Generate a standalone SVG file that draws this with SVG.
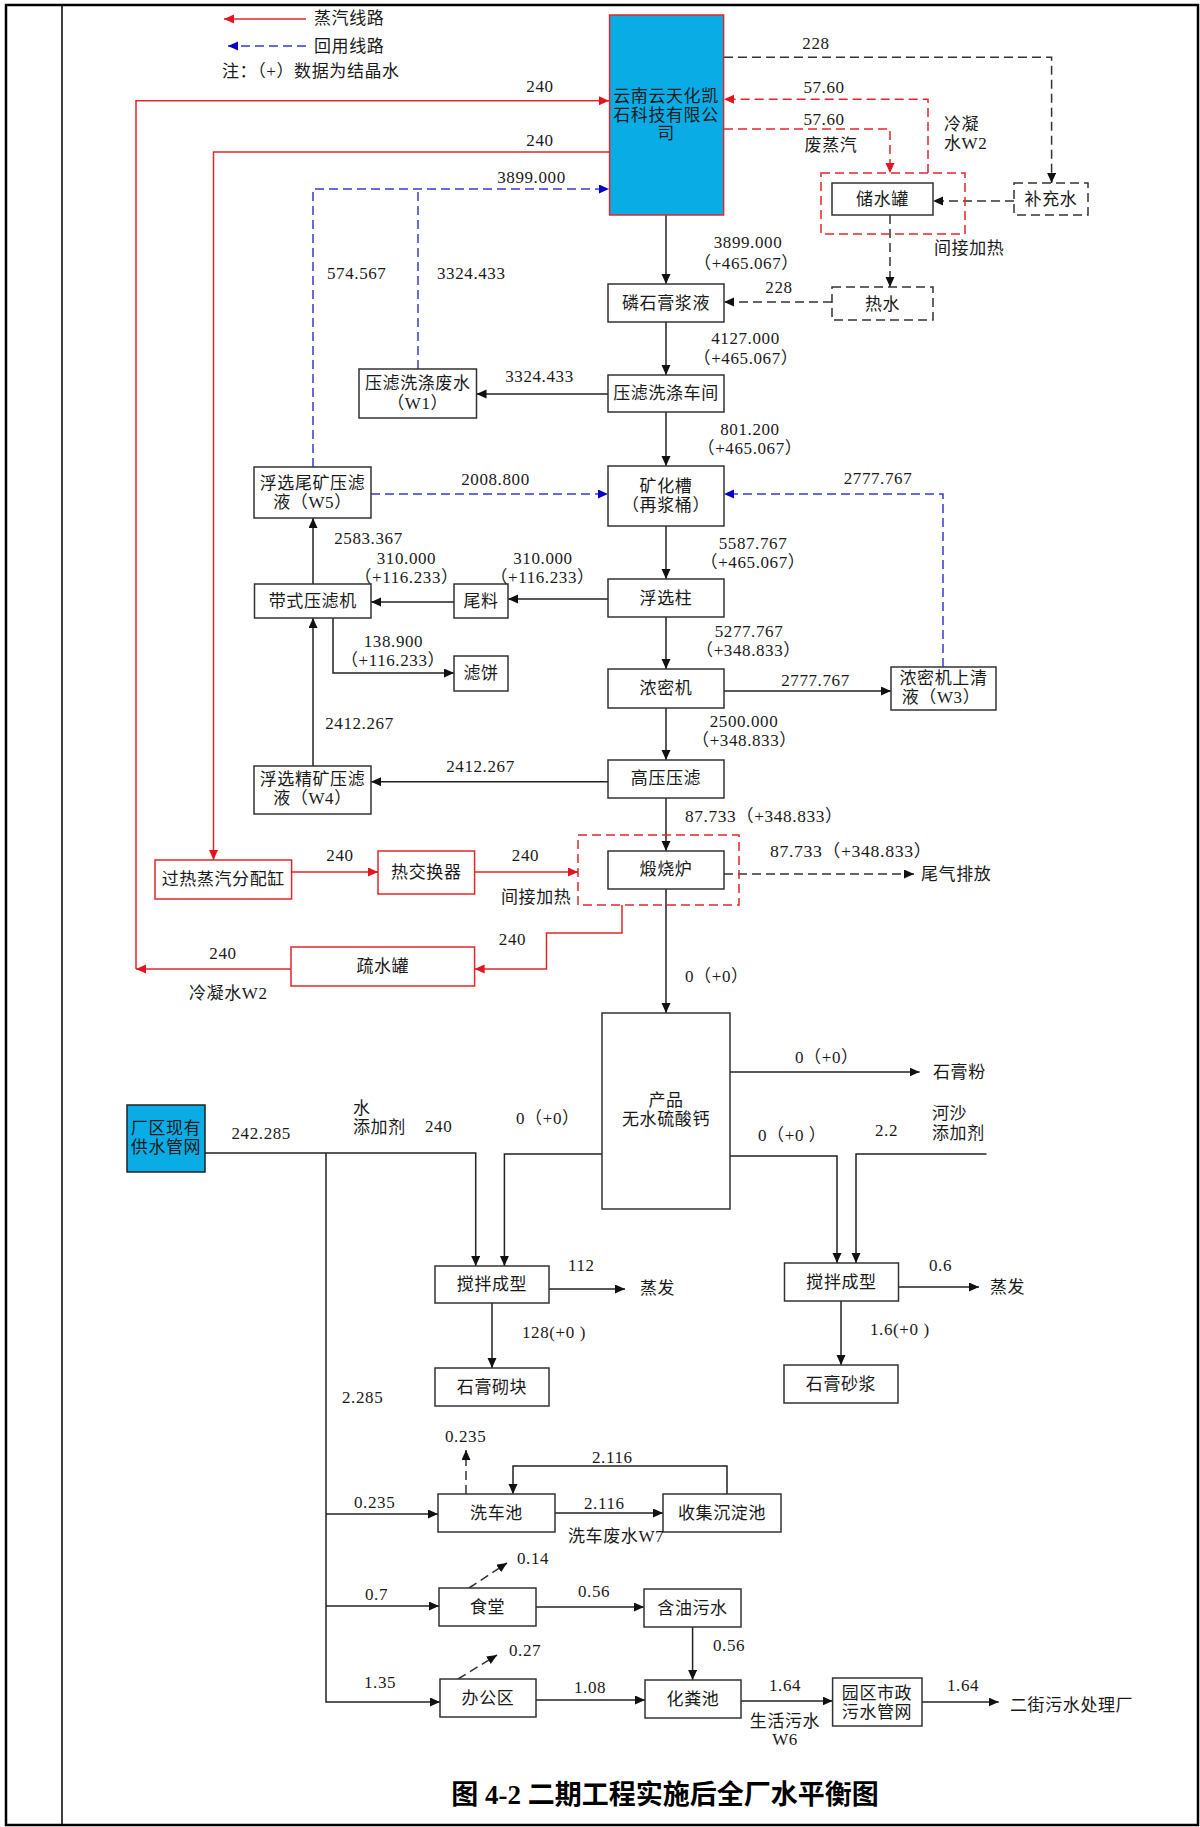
<svg xmlns="http://www.w3.org/2000/svg" width="1200" height="1827" viewBox="0 0 1200 1827">
<defs>
<style>
.ln{fill:none;stroke:#222;stroke-width:1.5}
.dk{fill:none;stroke:#333;stroke-width:1.5;stroke-dasharray:9 5}
.rd{fill:none;stroke:#E3262B;stroke-width:1.5}
.rdd{fill:none;stroke:#E3262B;stroke-width:1.5;stroke-dasharray:9 5}
.bl{fill:none;stroke:#3A3AD0;stroke-width:1.5;stroke-dasharray:9 5}
.box{fill:#fff;stroke:#333;stroke-width:1.5}
.dbox{fill:#fff;stroke:#333;stroke-width:1.5;stroke-dasharray:9 5}
.rbox{fill:#fff;stroke:#E3262B;stroke-width:1.5}
.t{font-family:"Liberation Serif","Noto Sans CJK SC",serif;font-size:17px;fill:#1a1a1a;letter-spacing:0.6px}
.m{text-anchor:middle}
.title{font-family:"Liberation Serif","Noto Sans CJK SC",serif;font-size:27px;font-weight:bold;fill:#000;text-anchor:middle}
</style>
<marker id="ak" markerUnits="userSpaceOnUse" markerWidth="11" markerHeight="10" refX="10" refY="4.5" orient="auto"><path d="M0,0 L10,4.5 L0,9 z" fill="#111" stroke="none"/></marker>
<marker id="ar" markerUnits="userSpaceOnUse" markerWidth="11" markerHeight="10" refX="10" refY="4.5" orient="auto"><path d="M0,0 L10,4.5 L0,9 z" fill="#E3141E" stroke="none"/></marker>
<marker id="ab" markerUnits="userSpaceOnUse" markerWidth="11" markerHeight="10" refX="10" refY="4.5" orient="auto"><path d="M0,0 L10,4.5 L0,9 z" fill="#0000C8" stroke="none"/></marker>
</defs>

<rect width="1200" height="1827" fill="#fff"/>
<!-- page frame -->
<rect x="6" y="5" width="1192" height="1820" fill="none" stroke="#000" stroke-width="2.5"/>
<line x1="62" y1="5" x2="62" y2="1825" stroke="#000" stroke-width="1.5"/>

<!-- legend -->
<g id="legend">
<line class="rd" x1="306" y1="19" x2="224" y2="19" marker-end="url(#ar)"/>
<text class="t" x="314" y="24">蒸汽线路</text>
<line class="bl" x1="306" y1="46" x2="228" y2="46" marker-end="url(#ab)"/>
<text class="t" x="314" y="52">回用线路</text>
<text class="t" x="222" y="77">注：（+）数据为结晶水</text>
</g>

<!-- connectors -->
<g id="connectors">
<!-- steam lines -->
<polyline class="rd" points="136,969 136,100.7 609,100.7" marker-end="url(#ar)"/>
<line class="rd" x1="291" y1="969" x2="136" y2="969" marker-end="url(#ar)"/>
<polyline class="rd" points="609,152 213.5,152 213.5,860" marker-end="url(#ar)"/>
<line class="rd" x1="291.6" y1="872" x2="378" y2="872" marker-end="url(#ar)"/>
<line class="rd" x1="474.6" y1="872" x2="578" y2="872" marker-end="url(#ar)"/>
<polyline class="rd" points="622,905 622,933 546.5,933 546.5,969 474.6,969" marker-end="url(#ar)"/>
<polyline class="rdd" points="928,173 928,99.3 724,99.3" marker-end="url(#ar)"/>
<polyline class="rdd" points="724,129 890,129 890,173" marker-end="url(#ar)"/>

<!-- recycled water lines -->
<line class="bl" x1="418" y1="369" x2="418" y2="189"/>
<polyline class="bl" points="313,467 313,189 609,189" marker-end="url(#ab)"/>
<line class="bl" x1="371" y1="494" x2="608" y2="494" marker-end="url(#ab)"/>
<polyline class="bl" points="943,667 943,494 724,494" marker-end="url(#ab)"/>

<!-- hot water loop -->
<polyline class="dk" points="724,57.3 1051.6,57.3 1051.6,183" marker-end="url(#ak)"/>
<line class="dk" x1="1014" y1="201" x2="933" y2="201" marker-end="url(#ak)"/>
<line class="dk" x1="890" y1="215" x2="890" y2="287" marker-end="url(#ak)"/>
<line class="dk" x1="832" y1="302" x2="724" y2="302" marker-end="url(#ak)"/>

<!-- main process column -->
<line class="ln" x1="666" y1="215" x2="666" y2="284" marker-end="url(#ak)"/>
<line class="ln" x1="666" y1="322" x2="666" y2="375" marker-end="url(#ak)"/>
<line class="ln" x1="666" y1="412" x2="666" y2="466" marker-end="url(#ak)"/>
<line class="ln" x1="666" y1="526" x2="666" y2="579" marker-end="url(#ak)"/>
<line class="ln" x1="666" y1="617" x2="666" y2="669" marker-end="url(#ak)"/>
<line class="ln" x1="666" y1="708" x2="666" y2="760" marker-end="url(#ak)"/>
<line class="ln" x1="666" y1="798" x2="666" y2="851" marker-end="url(#ak)"/>
<line class="ln" x1="666" y1="889" x2="666" y2="1013" marker-end="url(#ak)"/>

<line class="ln" x1="608" y1="394" x2="476.5" y2="394" marker-end="url(#ak)"/>
<line class="ln" x1="608" y1="599" x2="508" y2="599" marker-end="url(#ak)"/>
<line class="ln" x1="454" y1="602" x2="371" y2="602" marker-end="url(#ak)"/>
<line class="ln" x1="313" y1="584" x2="313" y2="518" marker-end="url(#ak)"/>
<polyline class="ln" points="333,618 333,673 454,673" marker-end="url(#ak)"/>
<line class="ln" x1="313" y1="766" x2="313" y2="618" marker-end="url(#ak)"/>
<line class="ln" x1="608" y1="781.7" x2="371" y2="781.7" marker-end="url(#ak)"/>
<line class="ln" x1="724" y1="691" x2="891" y2="691" marker-end="url(#ak)"/>
<line class="dk" x1="724" y1="874" x2="914" y2="874" marker-end="url(#ak)"/>

<!-- product section -->
<line class="ln" x1="730" y1="1072" x2="919.6" y2="1072" marker-end="url(#ak)"/>
<polyline class="ln" points="602,1154 504.4,1154 504.4,1266" marker-end="url(#ak)"/>
<polyline class="ln" points="205,1153 475.7,1153 475.7,1266" marker-end="url(#ak)"/>
<polyline class="ln" points="730,1156 837,1156 837,1263" marker-end="url(#ak)"/>
<polyline class="ln" points="986.5,1154 856,1154 856,1263" marker-end="url(#ak)"/>
<line class="ln" x1="549" y1="1289" x2="625" y2="1289" marker-end="url(#ak)"/>
<line class="ln" x1="898.5" y1="1287" x2="979" y2="1287" marker-end="url(#ak)"/>
<line class="ln" x1="492" y1="1303" x2="492" y2="1368" marker-end="url(#ak)"/>
<line class="ln" x1="841" y1="1301" x2="841" y2="1365" marker-end="url(#ak)"/>

<!-- domestic water -->
<polyline class="ln" points="326,1153 326,1702 440,1702" marker-end="url(#ak)"/>
<line class="ln" x1="326" y1="1514" x2="438" y2="1514" marker-end="url(#ak)"/>
<line class="ln" x1="326" y1="1606" x2="439" y2="1606" marker-end="url(#ak)"/>
<line class="dk" x1="466" y1="1494" x2="466" y2="1450" marker-end="url(#ak)"/>
<line class="ln" x1="555" y1="1513" x2="663" y2="1513" marker-end="url(#ak)"/>
<polyline class="ln" points="727,1494 727,1466 513,1466 513,1494" marker-end="url(#ak)"/>
<line class="dk" x1="469" y1="1588" x2="507" y2="1563" marker-end="url(#ak)"/>
<line class="ln" x1="536" y1="1607" x2="644" y2="1607" marker-end="url(#ak)"/>
<line class="ln" x1="692.6" y1="1627" x2="692.6" y2="1680" marker-end="url(#ak)"/>
<line class="dk" x1="458" y1="1679" x2="497" y2="1655" marker-end="url(#ak)"/>
<line class="ln" x1="536" y1="1700" x2="645" y2="1700" marker-end="url(#ak)"/>
<line class="ln" x1="741" y1="1701" x2="832.6" y2="1701" marker-end="url(#ak)"/>
<line class="ln" x1="922" y1="1702" x2="998.7" y2="1702" marker-end="url(#ak)"/>
</g>

<!-- heating enclosures -->
<rect class="rdd" x="821" y="173" width="144" height="61"/>
<rect class="rdd" x="578" y="835" width="161" height="70"/>

<!-- nodes -->
<g id="n-company"><rect x="609.6" y="15" width="114" height="200" fill="#0AACE6" stroke="#E3262B" stroke-width="1.5"/>
<text class="t m" x="666" y="102">云南云天化凯</text><text class="t m" x="666" y="121">石科技有限公</text><text class="t m" x="666" y="139">司</text></g>
<g id="n-tank"><rect class="box" x="832" y="183" width="101" height="32"/><text class="t m" x="882.5" y="205">储水罐</text></g>
<g id="n-makeup"><rect class="dbox" x="1014" y="183" width="74" height="32"/><text class="t m" x="1051" y="205">补充水</text></g>
<g id="n-hotwater"><rect class="dbox" x="832" y="287" width="101" height="33"/><text class="t m" x="882.5" y="309.5">热水</text></g>
<g id="n-slurry"><rect class="box" x="608" y="284" width="116" height="38"/><text class="t m" x="666" y="309">磷石膏浆液</text></g>
<g id="n-wash"><rect class="box" x="608" y="375" width="116" height="37"/><text class="t m" x="666" y="399">压滤洗涤车间</text></g>
<g id="n-w1"><rect class="box" x="359" y="369" width="117.5" height="49"/><text class="t m" x="417.75" y="389">压滤洗涤废水</text><text class="t m" x="417.75" y="409">（W1）</text></g>
<g id="n-mineral"><rect class="box" x="608" y="466" width="116" height="60"/><text class="t m" x="666" y="492">矿化槽</text><text class="t m" x="666" y="511">（再浆桶）</text></g>
<g id="n-w5"><rect class="box" x="254" y="467" width="117" height="51"/><text class="t m" x="312.5" y="489">浮选尾矿压滤</text><text class="t m" x="312.5" y="508">液（W5）</text></g>
<g id="n-flot"><rect class="box" x="608" y="579" width="116" height="38"/><text class="t m" x="666" y="604">浮选柱</text></g>
<g id="n-belt"><rect class="box" x="254.5" y="584" width="116.5" height="34"/><text class="t m" x="312.75" y="607">带式压滤机</text></g>
<g id="n-tail"><rect class="box" x="454" y="584" width="54" height="34"/><text class="t m" x="481" y="607">尾料</text></g>
<g id="n-cake"><rect class="box" x="454" y="656" width="54" height="35"/><text class="t m" x="481" y="679">滤饼</text></g>
<g id="n-thick"><rect class="box" x="608" y="669" width="116" height="39"/><text class="t m" x="666" y="694">浓密机</text></g>
<g id="n-w3"><rect class="box" x="891" y="667" width="105" height="43"/><text class="t m" x="943.5" y="684">浓密机上清</text><text class="t m" x="941" y="703">液（W3）</text></g>
<g id="n-hpf"><rect class="box" x="608" y="760" width="116" height="38"/><text class="t m" x="666" y="784">高压压滤</text></g>
<g id="n-w4"><rect class="box" x="254" y="766" width="117" height="48"/><text class="t m" x="312.5" y="785">浮选精矿压滤</text><text class="t m" x="312.5" y="804">液（W4）</text></g>
<g id="n-kiln"><rect class="box" x="608" y="851" width="116" height="38"/><text class="t m" x="666" y="875">煅烧炉</text></g>
<g id="n-header"><rect class="rbox" x="155" y="860" width="136.6" height="39"/><text class="t m" x="223.3" y="885">过热蒸汽分配缸</text></g>
<g id="n-hx"><rect class="rbox" x="378" y="851" width="96.6" height="43"/><text class="t m" x="426.3" y="878">热交换器</text></g>
<g id="n-trap"><rect class="rbox" x="291" y="947" width="183.6" height="39"/><text class="t m" x="382.8" y="972">疏水罐</text></g>
<g id="n-product"><rect class="box" x="602" y="1013" width="128" height="196"/><text class="t m" x="666" y="1106">产品</text><text class="t m" x="666" y="1125">无水硫酸钙</text></g>
<g id="n-supply"><rect x="127" y="1105" width="78" height="67" fill="#0AACE6" stroke="#222" stroke-width="1.5"/><text class="t m" x="166" y="1134">厂区现有</text><text class="t m" x="166" y="1153">供水管网</text></g>
<g id="n-mix1"><rect class="box" x="435" y="1266" width="114" height="37"/><text class="t m" x="492" y="1290">搅拌成型</text></g>
<g id="n-mix2"><rect class="box" x="784.5" y="1263" width="114" height="38"/><text class="t m" x="841.5" y="1288">搅拌成型</text></g>
<g id="n-block"><rect class="box" x="435" y="1368" width="114" height="38"/><text class="t m" x="492" y="1393">石膏砌块</text></g>
<g id="n-mortar"><rect class="box" x="784" y="1365" width="114" height="38"/><text class="t m" x="841" y="1390">石膏砂浆</text></g>
<g id="n-carwash"><rect class="box" x="438" y="1494" width="117" height="38"/><text class="t m" x="496.5" y="1519">洗车池</text></g>
<g id="n-settle"><rect class="box" x="663" y="1494" width="118" height="38"/><text class="t m" x="722" y="1519">收集沉淀池</text></g>
<g id="n-canteen"><rect class="box" x="439" y="1588" width="97" height="38"/><text class="t m" x="487.5" y="1613">食堂</text></g>
<g id="n-oily"><rect class="box" x="644" y="1589" width="97" height="38"/><text class="t m" x="692.5" y="1614">含油污水</text></g>
<g id="n-office"><rect class="box" x="440" y="1679" width="96" height="38"/><text class="t m" x="488" y="1704">办公区</text></g>
<g id="n-septic"><rect class="box" x="645" y="1680" width="96" height="38"/><text class="t m" x="693" y="1705">化粪池</text></g>
<g id="n-sewer"><rect class="box" x="832.6" y="1678" width="89.4" height="48"/><text class="t m" x="877" y="1699">园区市政</text><text class="t m" x="877" y="1718">污水管网</text></g>

<!-- flow labels -->
<g id="labels">
<text class="t m" x="540" y="92">240</text>
<text class="t m" x="540" y="146">240</text>
<text class="t m" x="531.5" y="183">3899.000</text>
<text class="t" x="327" y="279">574.567</text>
<text class="t" x="437" y="279">3324.433</text>
<text class="t m" x="816" y="49">228</text>
<text class="t m" x="824" y="93">57.60</text>
<text class="t m" x="824" y="125">57.60</text>
<text class="t m" x="831" y="151">废蒸汽</text>
<text class="t" x="944" y="130">冷凝</text>
<text class="t" x="944" y="149">水W2</text>
<text class="t" x="934" y="254">间接加热</text>
<text class="t m" x="779" y="293">228</text>
<text class="t m" x="748" y="248">3899.000</text>
<text class="t m" x="746.5" y="269">（+465.067）</text>
<text class="t m" x="745.5" y="344">4127.000</text>
<text class="t m" x="746" y="364">（+465.067）</text>
<text class="t m" x="539.5" y="382">3324.433</text>
<text class="t m" x="750" y="435">801.200</text>
<text class="t m" x="750" y="454">（+465.067）</text>
<text class="t m" x="878" y="484">2777.767</text>
<text class="t m" x="495.5" y="485">2008.800</text>
<text class="t m" x="753" y="549">5587.767</text>
<text class="t m" x="753" y="568">（+465.067）</text>
<text class="t m" x="368.5" y="544">2583.367</text>
<text class="t m" x="406.5" y="564">310.000</text>
<text class="t m" x="406.5" y="583">（+116.233）</text>
<text class="t m" x="543" y="564">310.000</text>
<text class="t m" x="542.5" y="583">（+116.233）</text>
<text class="t m" x="393.5" y="647">138.900</text>
<text class="t m" x="393" y="666">（+116.233）</text>
<text class="t m" x="749" y="637">5277.767</text>
<text class="t m" x="748.5" y="656">（+348.833）</text>
<text class="t m" x="815.5" y="686">2777.767</text>
<text class="t m" x="359.5" y="729">2412.267</text>
<text class="t m" x="744" y="727">2500.000</text>
<text class="t m" x="744.5" y="746">（+348.833）</text>
<text class="t m" x="480.5" y="772">2412.267</text>
<text class="t" x="685" y="822" textLength="158" lengthAdjust="spacingAndGlyphs">87.733（+348.833）</text>
<text class="t" x="770" y="857" textLength="162" lengthAdjust="spacingAndGlyphs">87.733（+348.833）</text>
<text class="t" x="921" y="880">尾气排放</text>
<text class="t m" x="340" y="861">240</text>
<text class="t m" x="525.5" y="861">240</text>
<text class="t" x="501" y="903">间接加热</text>
<text class="t m" x="512.5" y="945">240</text>
<text class="t m" x="223" y="959">240</text>
<text class="t" x="189" y="999">冷凝水W2</text>
<text class="t" x="685" y="982">0（+0）</text>
<text class="t" x="795" y="1063">0（+0）</text>
<text class="t" x="933" y="1078">石膏粉</text>
<text class="t" x="231.5" y="1139">242.285</text>
<text class="t" x="353" y="1114">水</text>
<text class="t" x="353" y="1133">添加剂</text>
<text class="t" x="425" y="1132">240</text>
<text class="t" x="516" y="1124">0（+0）</text>
<text class="t" x="758" y="1141">0（+0 ）</text>
<text class="t" x="875" y="1136">2.2</text>
<text class="t" x="932" y="1119">河沙</text>
<text class="t" x="932" y="1139">添加剂</text>
<text class="t" x="568" y="1271">112</text>
<text class="t" x="640" y="1294">蒸发</text>
<text class="t" x="929" y="1271">0.6</text>
<text class="t" x="990" y="1293">蒸发</text>
<text class="t" x="522" y="1338">128(+0 )</text>
<text class="t" x="870" y="1335">1.6(+0 )</text>
<text class="t" x="342" y="1403">2.285</text>
<text class="t" x="445" y="1442">0.235</text>
<text class="t" x="592" y="1463">2.116</text>
<text class="t" x="354" y="1508">0.235</text>
<text class="t" x="584" y="1509">2.116</text>
<text class="t" x="568" y="1542">洗车废水W7</text>
<text class="t" x="517" y="1564">0.14</text>
<text class="t" x="365" y="1600">0.7</text>
<text class="t" x="578" y="1597">0.56</text>
<text class="t" x="713" y="1651">0.56</text>
<text class="t" x="509" y="1656">0.27</text>
<text class="t" x="364" y="1688">1.35</text>
<text class="t" x="574" y="1693">1.08</text>
<text class="t" x="769" y="1691">1.64</text>
<text class="t m" x="785" y="1727">生活污水</text>
<text class="t m" x="785" y="1745">W6</text>
<text class="t" x="947" y="1691">1.64</text>
<text class="t" x="1010" y="1711">二街污水处理厂</text>
</g>

<text class="title" x="665" y="1804">图 4-2 二期工程实施后全厂水平衡图</text>
</svg>
